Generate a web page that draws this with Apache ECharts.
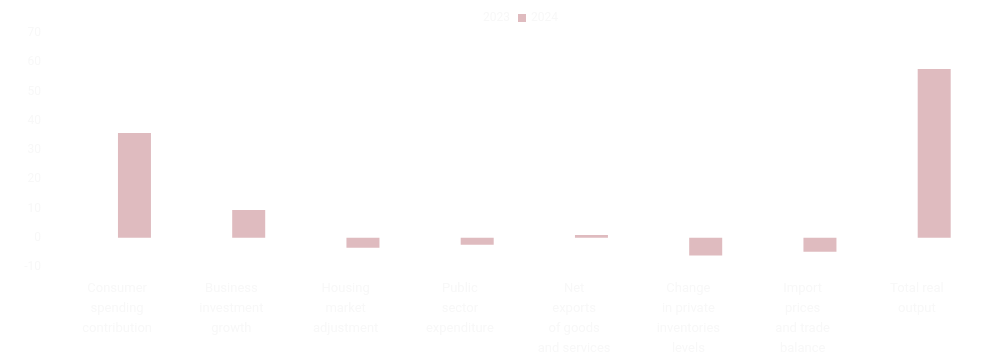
<!DOCTYPE html>
<html>
<head>
<meta charset="utf-8">
<script src="https://cdn.jsdelivr.net/npm/echarts@6/dist/echarts.min.js"></script>
<style>html,body{margin:0;padding:0;background:#fff;}#c{width:985px;height:363px;}</style>
</head>
<body>
<div id="c"></div>
<script>
var categories = [
  "Consumer\nspending\ncontribution",
  "Business\ninvestment\ngrowth",
  "Housing\nmarket\nadjustment",
  "Public\nsector\nexpenditure",
  "Net\nexports\nof goods\nand services",
  "Change\nin private\ninventories\nlevels",
  "Import\nprices\nand trade\nbalance",
  "Total real\noutput"
];
var seriesNames = ["2023", "2024"];
var previousValues = [30.0, 1.3, -2.0, -1.5, 0.5, -4.0, -3.0, 50.0];
var currentValues = [35.8, 9.5, -3.4, -2.4, 0.9, -6.1, -4.8, 57.7];
var yMin = -10, yMax = 70, yStep = 10;

var faint = '#f8f8f8';
var chart = echarts.init(document.getElementById('c'));
chart.setOption({
  animation: false,
  backgroundColor: '#ffffff',
  legend: {
    top: 7,
    left: 465,
    itemWidth: 8,
    itemHeight: 8,
    icon: 'rect',
    textStyle: { color: faint, fontSize: 12, fontFamily: 'Roboto' },
    data: seriesNames
  },
  grid: { left: 60, right: 11, top: 33, bottom: 96 },
  xAxis: {
    type: 'category',
    data: categories,
    axisLine: { show: false },
    axisTick: { show: false },
    axisLabel: { color: faint, fontSize: 13, lineHeight: 20, interval: 0, margin: 12, fontFamily: 'Roboto' }
  },
  yAxis: {
    type: 'value',
    min: yMin, max: yMax, interval: yStep,
    axisLine: { show: false },
    axisTick: { show: false },
    splitLine: { show: false },
    axisLabel: { color: faint, fontSize: 12, margin: 19, fontFamily: 'Roboto' }
  },
  series: [
    {
      name: seriesNames[0], type: 'bar', data: previousValues,
      barWidth: 33, barGap: '5%',
      itemStyle: { color: '#ffffff' },
      label: { show: true, position: 'top', color: '#ffffff', fontSize: 12 }
    },
    {
      name: seriesNames[1], type: 'bar', data: currentValues,
      barWidth: 33, barGap: '5%',
      itemStyle: { color: '#dfbbbf' }
    }
  ]
});
</script>
</body>
</html>
